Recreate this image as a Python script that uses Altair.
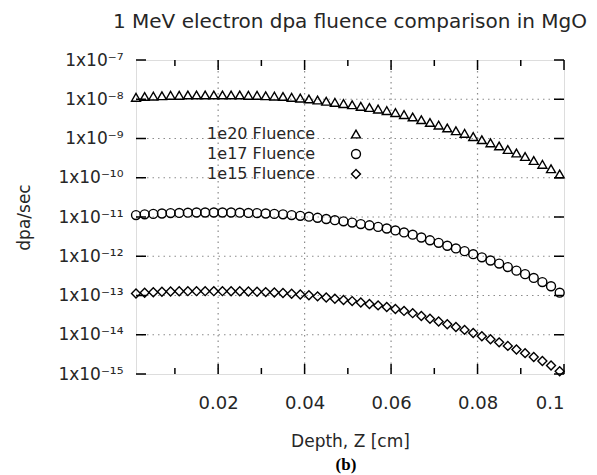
import json
import pandas as pd
import altair as alt

# ---------------- data ----------------
depth = [0.001, 0.003, 0.005, 0.007, 0.009, 0.011, 0.013, 0.015, 0.017, 0.019,
         0.021, 0.023, 0.025, 0.027, 0.029, 0.031, 0.033, 0.035, 0.037, 0.039,
         0.041, 0.043, 0.045, 0.047, 0.049, 0.051, 0.053, 0.055, 0.057, 0.059,
         0.061, 0.063, 0.065, 0.067, 0.069, 0.071, 0.073, 0.075, 0.077, 0.079,
         0.081, 0.083, 0.085, 0.087, 0.089, 0.091, 0.093, 0.095, 0.097, 0.099]

fluence_1e20 = [1.12e-8, 1.18e-8, 1.20e-8, 1.23e-8, 1.26e-8, 1.26e-8, 1.29e-8, 1.29e-8, 1.29e-8, 1.29e-8,
                1.29e-8, 1.29e-8, 1.29e-8, 1.26e-8, 1.26e-8, 1.23e-8, 1.20e-8, 1.18e-8, 1.12e-8, 1.07e-8,
                1.02e-8, 9.55e-9, 8.91e-9, 8.32e-9, 7.76e-9, 7.24e-9, 6.61e-9, 6.17e-9, 5.62e-9, 5.13e-9,
                4.57e-9, 4.07e-9, 3.55e-9, 3.02e-9, 2.57e-9, 2.19e-9, 1.86e-9, 1.58e-9, 1.35e-9, 1.12e-9,
                9.33e-10, 7.76e-10, 6.46e-10, 5.25e-10, 4.27e-10, 3.47e-10, 2.75e-10, 2.19e-10, 1.70e-10, 1.25e-10]

fluence_1e17 = [1.12e-11, 1.17e-11, 1.20e-11, 1.23e-11, 1.26e-11, 1.27e-11, 1.29e-11, 1.30e-11, 1.30e-11, 1.30e-11,
                1.30e-11, 1.30e-11, 1.29e-11, 1.27e-11, 1.26e-11, 1.23e-11, 1.20e-11, 1.17e-11, 1.12e-11, 1.07e-11,
                1.02e-11, 9.55e-12, 8.90e-12, 8.30e-12, 7.75e-12, 7.20e-12, 6.60e-12, 6.15e-12, 5.60e-12, 5.10e-12,
                4.55e-12, 4.05e-12, 3.55e-12, 3.00e-12, 2.55e-12, 2.20e-12, 1.85e-12, 1.58e-12, 1.35e-12, 1.13e-12,
                9.40e-13, 7.80e-13, 6.50e-13, 5.30e-13, 4.30e-13, 3.50e-13, 2.80e-13, 2.20e-13, 1.72e-13, 1.18e-13]

fluence_1e15 = [1.13e-13, 1.18e-13, 1.21e-13, 1.24e-13, 1.26e-13, 1.28e-13, 1.29e-13, 1.29e-13, 1.29e-13, 1.29e-13,
                1.29e-13, 1.28e-13, 1.28e-13, 1.26e-13, 1.25e-13, 1.22e-13, 1.19e-13, 1.16e-13, 1.11e-13, 1.06e-13,
                1.01e-13, 9.50e-14, 8.90e-14, 8.30e-14, 7.70e-14, 7.20e-14, 6.60e-14, 6.10e-14, 5.60e-14, 5.10e-14,
                4.55e-14, 4.05e-14, 3.55e-14, 3.00e-14, 2.56e-14, 2.18e-14, 1.85e-14, 1.57e-14, 1.33e-14, 1.11e-14,
                9.20e-15, 7.70e-15, 6.40e-15, 5.20e-15, 4.20e-15, 3.40e-15, 2.70e-15, 2.15e-15, 1.65e-15, 1.18e-15]

series_names = ["1e20 Fluence", "1e17 Fluence", "1e15 Fluence"]
series_shapes = ["triangle-up", "circle", "diamond"]

y_ticks = [1e-15, 1e-14, 1e-13, 1e-12, 1e-11, 1e-10, 1e-9, 1e-8, 1e-7]
y_tick_labels = ["1x10⁻¹⁵", "1x10⁻¹⁴", "1x10⁻¹³", "1x10⁻¹²", "1x10⁻¹¹",
                 "1x10⁻¹⁰", "1x10⁻⁹", "1x10⁻⁸", "1x10⁻⁷"]
x_major = [0.02, 0.04, 0.06, 0.08, 0.1]
x_minor = [0.01, 0.03, 0.05, 0.07, 0.09]
x_grid = [0.02, 0.04, 0.06, 0.08]
y_grid = [1e-14, 1e-13, 1e-12, 1e-11, 1e-10, 1e-9, 1e-8]

title_text = "1 MeV electron dpa fluence comparison in MgO"
x_title = "Depth, Z [cm]"
y_title = "dpa/sec"
caption = "(b)"

# ---------------- layout ----------------
W, H = 428, 314
PAD_L, PAD_T = 136, 60
FONT = "DejaVu Sans"
TXT = "#262626"

rows = []
for name, vals in zip(series_names, [fluence_1e20, fluence_1e17, fluence_1e15]):
    for d, v in zip(depth, vals):
        rows.append({"depth": d, "dpa": v, "series": name})
df = pd.DataFrame(rows)

xscale = alt.Scale(domain=[0.001, 0.1], nice=False, zero=False)
yscale = alt.Scale(type="log", domain=[1e-15, 1e-7], nice=False)

label_expr = json.dumps(y_tick_labels, ensure_ascii=False) + "[round(log(datum.value)/LN10)+15]"

x_axis = alt.Axis(values=x_major, format=".2~f", title=x_title, grid=False,
                  ticks=False, domain=False, labelPadding=20,
                  labelFont=FONT, labelFontSize=18, labelColor=TXT,
                  titleFont=FONT, titleFontSize=17, titleColor=TXT, titleFontWeight="normal",
                  titleY=67, titleBaseline="middle")
y_axis = alt.Axis(values=y_ticks, labelExpr=label_expr, title=y_title, grid=False,
                  ticks=False, domain=False, labelPadding=13,
                  labelFont=FONT, labelFontSize=17, labelColor=TXT,
                  titleFont=FONT, titleFontSize=17, titleColor=TXT, titleFontWeight="normal",
                  titleX=-112, titleBaseline="middle")

points = alt.Chart(df).mark_point(filled=False, color="black", strokeWidth=1.4, size=80, opacity=1).encode(
    x=alt.X("depth:Q", scale=xscale, axis=x_axis, title=x_title),
    y=alt.Y("dpa:Q", scale=yscale, axis=y_axis, title=y_title),
    shape=alt.Shape("series:N",
                    scale=alt.Scale(domain=series_names, range=series_shapes),
                    sort=series_names,
                    legend=alt.Legend(title=None, orient="none", legendX=212, legendY=66,
                                      labelAlign="right", labelOffset={"expr": "-49"}, padding=0,
                                      symbolSize=80, symbolStrokeWidth=1.4,
                                      symbolStrokeColor="black", symbolFillColor="transparent",
                                      labelFont=FONT, labelFontSize=16, labelColor=TXT,
                                      rowPadding=4)),
)

ytick_df = pd.DataFrame({"v": y_ticks})
xmaj_df = pd.DataFrame({"v": x_major})
xmin_df = pd.DataFrame({"v": x_minor})
xgrid_df = pd.DataFrame({"v": x_grid})
ygrid_df = pd.DataFrame({"v": y_grid})

grid_style = dict(color="#8c8c8c", strokeWidth=1.2, strokeDash=[1.5, 4])
gy = alt.Chart(ygrid_df).mark_rule(**grid_style).encode(
    y=alt.Y("v:Q", scale=yscale, axis=y_axis, title=y_title), x=alt.value(0), x2=alt.value(W))
gx = alt.Chart(xgrid_df).mark_rule(**grid_style).encode(
    x=alt.X("v:Q", scale=xscale, axis=x_axis, title=x_title), y=alt.value(0), y2=alt.value(H))

rule_style = dict(color="black", strokeWidth=1.5)
yl = alt.Chart(ytick_df).mark_rule(**rule_style).encode(
    y=alt.Y("v:Q", scale=yscale, axis=y_axis, title=y_title), x=alt.value(0), x2=alt.value(10))
yr = alt.Chart(ytick_df).mark_rule(**rule_style).encode(
    y=alt.Y("v:Q", scale=yscale, axis=y_axis, title=y_title), x=alt.value(W - 10), x2=alt.value(W))
xb = alt.Chart(xmaj_df).mark_rule(**rule_style).encode(
    x=alt.X("v:Q", scale=xscale, axis=x_axis, title=x_title), y=alt.value(H - 10), y2=alt.value(H))
xt = alt.Chart(xmaj_df).mark_rule(**rule_style).encode(
    x=alt.X("v:Q", scale=xscale, axis=x_axis, title=x_title), y=alt.value(0), y2=alt.value(10))
xbm = alt.Chart(xmin_df).mark_rule(**rule_style).encode(
    x=alt.X("v:Q", scale=xscale, axis=x_axis, title=x_title), y=alt.value(H - 6), y2=alt.value(H))
xtm = alt.Chart(xmin_df).mark_rule(**rule_style).encode(
    x=alt.X("v:Q", scale=xscale, axis=x_axis, title=x_title), y=alt.value(0), y2=alt.value(6))

cap = alt.Chart(pd.DataFrame({"t": [caption]})).mark_text(
    font="Liberation Serif", fontWeight="bold", fontSize=17, color="black", baseline="middle"
).encode(text="t:N", x=alt.value(210), y=alt.value(405))

chart = alt.layer(gy, gx, points, yl, yr, xb, xt, xbm, xtm, cap).properties(
    width=W, height=H,
    title=alt.TitleParams(title_text, font=FONT, fontSize=20, fontWeight="normal", color=TXT,
                          anchor="middle", offset=19, frame="group"),
    padding={"left": PAD_L, "top": PAD_T, "right": 597 - PAD_L - W, "bottom": 475 - PAD_T - H},
    autosize=alt.AutoSizeParams(type="none"),
).configure_view(stroke="black", strokeWidth=1.5).configure(background="white")

chart.save("out.html", embed_options={"renderer": "svg", "actions": False})
